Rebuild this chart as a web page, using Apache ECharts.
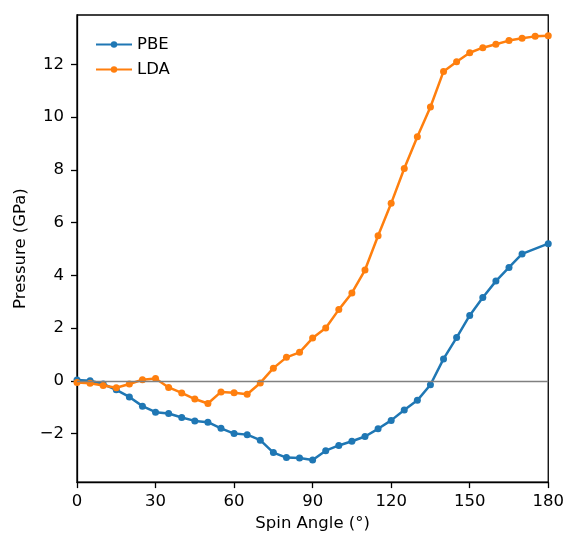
<!DOCTYPE html>
<html><head><meta charset="utf-8">
<script src="https://cdn.jsdelivr.net/npm/echarts@6/dist/echarts.min.js"></script>
<style>html,body{margin:0;padding:0;background:#fff;overflow:hidden}#c{width:567px;height:537px}</style>
</head><body><div id="c"></div>
<script>
const pbeAngles = [0,5,10,15,20,25,30,35,40,45,50,55,60,65,70,75,80,85,90,95,100,105,110,115,120,125,130,135,140,145,150,155,160,165,170,180];
const pbeValues = [0.03,0.0,-0.12,-0.34,-0.61,-0.96,-1.19,-1.24,-1.39,-1.52,-1.57,-1.8,-2.0,-2.04,-2.25,-2.72,-2.91,-2.93,-3.0,-2.65,-2.45,-2.29,-2.11,-1.82,-1.5,-1.11,-0.74,-0.15,0.83,1.64,2.48,3.16,3.78,4.3,4.81,5.2];
const ldaAngles = [0,5,10,15,20,25,30,35,40,45,50,55,60,65,70,75,80,85,90,95,100,105,110,115,120,125,130,135,140,145,150,155,160,165,170,175,180];
const ldaValues = [-0.06,-0.09,-0.18,-0.26,-0.12,0.04,0.09,-0.25,-0.46,-0.69,-0.86,-0.42,-0.45,-0.51,-0.08,0.48,0.89,1.08,1.62,2.0,2.7,3.33,4.2,5.5,6.73,8.05,9.25,10.38,11.73,12.1,12.44,12.63,12.76,12.9,12.99,13.06,13.08];
const xTicks = [0,30,60,90,120,150,180];
const yTicks = [-2,0,2,4,6,8,10,12];

const pair = (a, v) => a.map((x, i) => [x, v[i]]);
const font = 'DejaVu Sans';
const fs = 16.5;
const chart = echarts.init(document.getElementById('c'), null, {renderer: 'canvas'});
chart.setOption({
  animation: false,
  backgroundColor: '#fff',
  grid: {left: 77, right: 15, top: 15, bottom: 49.5, show: true, borderColor: '#000', borderWidth: 1.3, backgroundColor: 'transparent'},
  legend: {
    left: 90, top: 31, orient: 'vertical', itemGap: 8, itemWidth: 36, itemHeight: 8,
    textStyle: {fontFamily: font, fontSize: fs, lineHeight: 16, color: '#000'},
    data: ['PBE', 'LDA']
  },
  xAxis: {
    type: 'value', min: 0, max: 180, interval: 30,
    name: 'Spin Angle (°)', nameLocation: 'middle', nameGap: 32,
    nameTextStyle: {fontFamily: font, fontSize: fs, color: '#000'},
    axisLine: {show: true, onZero: false, lineStyle: {color: '#000', width: 1.3}},
    axisTick: {show: true, length: 6, lineStyle: {color: '#000', width: 1.3}},
    axisLabel: {fontFamily: font, fontSize: fs, color: '#000', margin: 11},
    splitLine: {show: false}
  },
  yAxis: {
    type: 'value', min: -3.84, max: 13.87,
    name: 'Pressure (GPa)', nameLocation: 'middle', nameGap: 44,
    nameTextStyle: {fontFamily: font, fontSize: fs, color: '#000'},
    axisLine: {show: true, onZero: false, lineStyle: {color: '#000', width: 1.3}},
    axisTick: {show: true, length: 6, customValues: yTicks, lineStyle: {color: '#000', width: 1.3}},
    axisLabel: {fontFamily: font, fontSize: fs, color: '#000', margin: 13, customValues: yTicks,
      formatter: v => (v < 0 ? '\u2212' + Math.abs(v) : '' + v)},
    splitLine: {show: false}
  },
  series: [
    {
      name: 'PBE', type: 'line', data: pair(pbeAngles, pbeValues),
      symbol: 'circle', symbolSize: 7, showAllSymbol: true,
      itemStyle: {color: '#1f77b4'}, lineStyle: {color: '#1f77b4', width: 2.5},
      markLine: {silent: true, symbol: 'none', label: {show: false},
        lineStyle: {color: '#808080', width: 1.3, type: 'solid'}, data: [{yAxis: 0}]},
      z: 3
    },
    {
      name: 'LDA', type: 'line', data: pair(ldaAngles, ldaValues),
      symbol: 'circle', symbolSize: 7, showAllSymbol: true,
      itemStyle: {color: '#ff7f0e'}, lineStyle: {color: '#ff7f0e', width: 2.5},
      z: 4
    }
  ]
});
</script></body></html>
